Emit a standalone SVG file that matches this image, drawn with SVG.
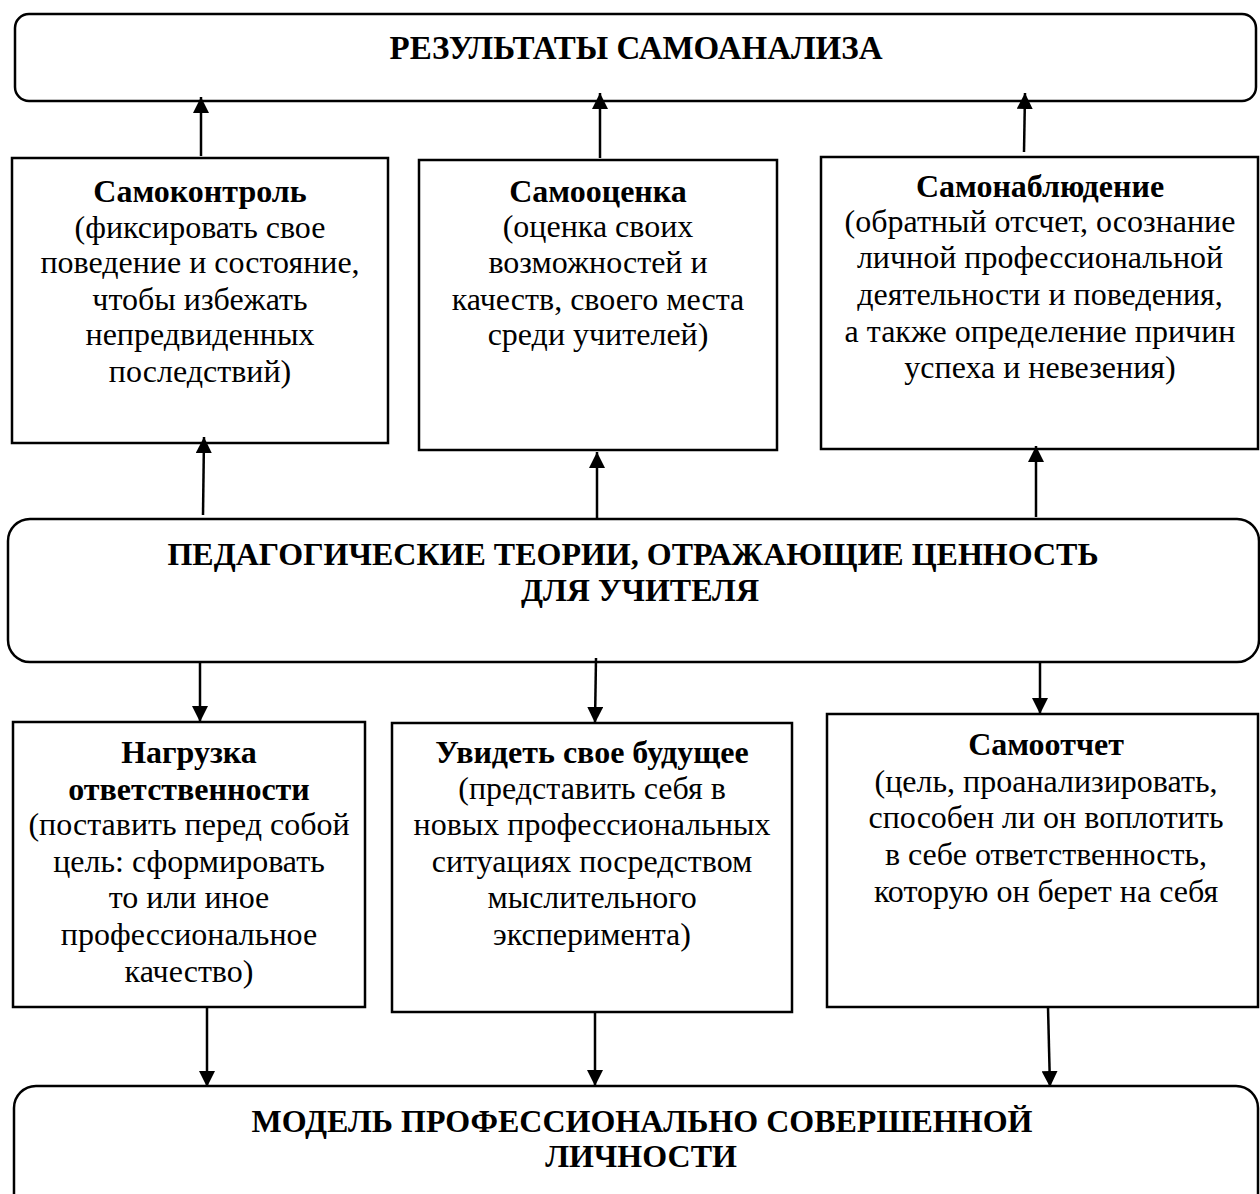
<svg xmlns="http://www.w3.org/2000/svg" width="1260" height="1194" viewBox="0 0 1260 1194">
<style>
.box{fill:#fff;stroke:#000;stroke-width:2.5}
.t{font-family:"Liberation Serif","Times New Roman",serif;font-size:32px;fill:#000;text-anchor:middle}
.b{font-weight:bold}
.h{font-family:"Liberation Serif","Times New Roman",serif;font-size:32px;font-weight:bold;fill:#000;text-anchor:middle}
.c{stroke:#000;stroke-width:2.5;fill:none;marker-end:url(#ah)}
</style>
<defs>
<marker id="ah" markerUnits="userSpaceOnUse" markerWidth="16" markerHeight="16" refX="16" refY="8" orient="auto">
<path d="M0,0 L16,8 L0,16 z" fill="#000"/>
</marker>
</defs>
<rect width="1260" height="1194" fill="#fff"/>
<g id="n-results">
<rect class="box" x="15" y="14" width="1241" height="87" rx="14"/>
<text class="h" x="636" y="59" style="font-size:33px">РЕЗУЛЬТАТЫ САМОАНАЛИЗА</text>
</g>
<g id="n-selfcontrol">
<rect class="box" x="12" y="158" width="376" height="285"/>
<text class="t b" x="200" y="202">Самоконтроль</text>
<text class="t" x="200" y="238">(фиксировать свое</text>
<text class="t" x="200" y="273">поведение и состояние,</text>
<text class="t" x="200" y="310">чтобы избежать</text>
<text class="t" x="200" y="345">непредвиденных</text>
<text class="t" x="200" y="382">последствий)</text>
</g>
<g id="n-selfesteem">
<rect class="box" x="419" y="160" width="358" height="290"/>
<text class="t b" x="598" y="202">Самооценка</text>
<text class="t" x="598" y="237">(оценка своих</text>
<text class="t" x="598" y="273">возможностей и</text>
<text class="t" x="598" y="310">качеств, своего места</text>
<text class="t" x="598" y="345">среди учителей)</text>
</g>
<g id="n-selfobs">
<rect class="box" x="821" y="157" width="437" height="292"/>
<text class="t b" x="1040" y="197">Самонаблюдение</text>
<text class="t" x="1040" y="232">(обратный отсчет, осознание</text>
<text class="t" x="1040" y="268">личной профессиональной</text>
<text class="t" x="1040" y="305">деятельности и поведения,</text>
<text class="t" x="1040" y="342">а также определение причин</text>
<text class="t" x="1040" y="378">успеха и невезения)</text>
</g>
<g id="n-theories">
<rect class="box" x="8" y="519" width="1251" height="143" rx="22"/>
<text class="h" x="633" y="565">ПЕДАГОГИЧЕСКИЕ ТЕОРИИ, ОТРАЖАЮЩИЕ ЦЕННОСТЬ</text>
<text class="h" x="640" y="601">ДЛЯ УЧИТЕЛЯ</text>
</g>
<g id="n-load">
<rect class="box" x="13" y="722" width="352" height="285"/>
<text class="t b" x="189" y="763">Нагрузка</text>
<text class="t b" x="189" y="800">ответственности</text>
<text class="t" x="189" y="835">(поставить перед собой</text>
<text class="t" x="189" y="872">цель: сформировать</text>
<text class="t" x="189" y="908">то или иное</text>
<text class="t" x="189" y="945">профессиональное</text>
<text class="t" x="189" y="982">качество)</text>
</g>
<g id="n-future">
<rect class="box" x="392" y="723" width="400" height="289"/>
<text class="t b" x="592" y="763">Увидеть свое будущее</text>
<text class="t" x="592" y="799">(представить себя в</text>
<text class="t" x="592" y="835">новых профессиональных</text>
<text class="t" x="592" y="872">ситуациях посредством</text>
<text class="t" x="592" y="908">мыслительного</text>
<text class="t" x="592" y="945">эксперимента)</text>
</g>
<g id="n-report">
<rect class="box" x="827" y="714" width="431" height="293"/>
<text class="t b" x="1046" y="755">Самоотчет</text>
<text class="t" x="1046" y="792">(цель, проанализировать,</text>
<text class="t" x="1046" y="828">способен ли он воплотить</text>
<text class="t" x="1046" y="865">в себе ответственность,</text>
<text class="t" x="1046" y="902">которую он берет на себя</text>
</g>
<g id="n-model">
<rect class="box" x="14" y="1086" width="1244" height="140" rx="22"/>
<text class="h" x="642" y="1132">МОДЕЛЬ ПРОФЕССИОНАЛЬНО СОВЕРШЕННОЙ</text>
<text class="h" x="641" y="1167">ЛИЧНОСТИ</text>
</g>
<g id="connectors">
<line class="c" x1="201" y1="156" x2="201" y2="97"/>
<line class="c" x1="600" y1="158" x2="600" y2="93"/>
<line class="c" x1="1024" y1="152" x2="1025" y2="93"/>
<line class="c" x1="203" y1="515" x2="204" y2="437"/>
<line class="c" x1="597" y1="518" x2="597" y2="452"/>
<line class="c" x1="1036" y1="517" x2="1036" y2="446"/>
<line class="c" x1="200" y1="662" x2="200" y2="722"/>
<line class="c" x1="596" y1="658" x2="595" y2="723"/>
<line class="c" x1="1040" y1="662" x2="1040" y2="714"/>
<line class="c" x1="207" y1="1007" x2="207" y2="1087"/>
<line class="c" x1="595" y1="1012" x2="595" y2="1086"/>
<line class="c" x1="1048" y1="1007" x2="1050" y2="1087"/>
</g>
</svg>
